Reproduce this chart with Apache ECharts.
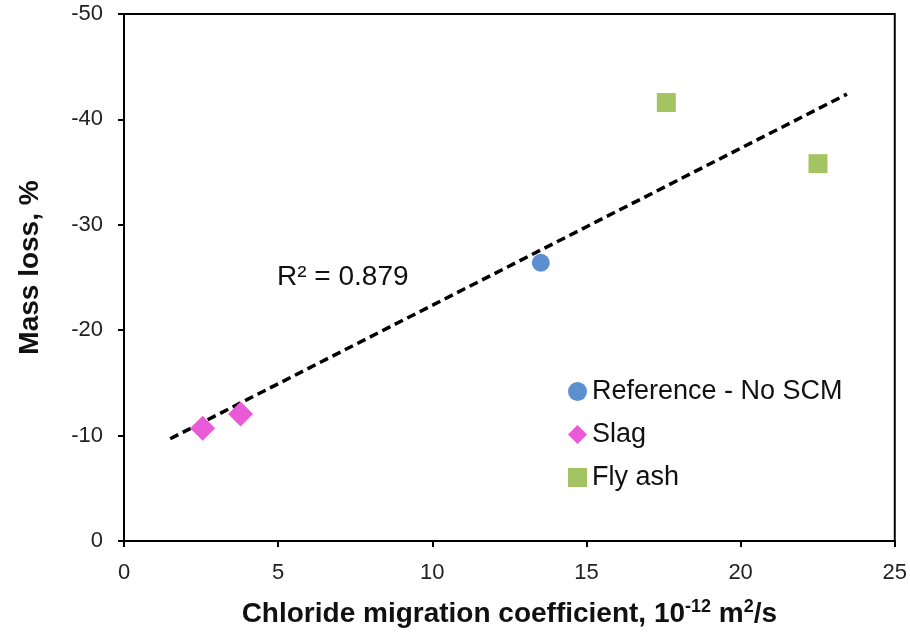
<!DOCTYPE html>
<html>
<head>
<meta charset="utf-8">
<script src="https://cdn.jsdelivr.net/npm/echarts@6/dist/echarts.min.js"></script>
<style>
  html, body { margin: 0; padding: 0; background: #fff; }
  #chart { width: 910px; height: 636px; }
</style>
</head>
<body>
<div id="chart"></div>
<script>
// values: [chloride migration coeff, mass loss %]
const reference = [[13.52, -26.4]]
const slag = [[2.55, -10.7], [3.78, -12.05]]
const flyAsh = [[17.59, -41.6], [22.51, -35.8]]
const trend = [[1.5, -9.7], [23.45, -42.4]]
const seriesNames = ['Reference - No SCM', 'Slag', 'Fly ash']
const r2Label = 'R² = 0.879'

const FONT = 'Liberation Sans, Arial, sans-serif'
const chart = echarts.init(document.getElementById('chart'), null, { renderer: 'canvas' })

chart.setOption({
  animation: false,
  textStyle: { fontFamily: FONT },
  grid: { left: 124, right: 13, top: 14, bottom: 95, show: true,
    borderColor: '#000', borderWidth: 2, backgroundColor: 'transparent' },
  legend: {
    orient: 'vertical', left: 568, top: 378, itemGap: 16, padding: 0,
    itemWidth: 19, itemHeight: 19,
    textStyle: { fontFamily: FONT, fontSize: 27, lineHeight: 27, color: '#111' },
    data: [
      { name: seriesNames[0], icon: 'circle' },
      { name: seriesNames[1], icon: 'diamond' },
      { name: seriesNames[2], icon: 'rect' },
    ],
  },
  xAxis: {
    type: 'value', min: 0, max: 25, interval: 5,
    name: '{b|Chloride migration coefficient, 10}{s|-12}{b| m}{s|2}{b|/s}',
    nameLocation: 'middle', nameGap: 57,
    nameTextStyle: { rich: {
      b: { fontFamily: FONT, fontSize: 28, fontWeight: 'bold', color: '#111', lineHeight: 32 },
      s: { fontFamily: FONT, fontSize: 18, fontWeight: 'bold', color: '#111', verticalAlign: 'top', lineHeight: 32, padding: [0, 0, 14, 0] },
    } },
    axisLine: { show: true, onZero: false, lineStyle: { color: '#000', width: 2 } },
    axisTick: { show: true, inside: false, length: 6, lineStyle: { color: '#000', width: 2 } },
    axisLabel: { fontSize: 22, color: '#222', margin: 21 },
    splitLine: { show: false },
  },
  yAxis: {
    type: 'value', min: -50, max: 0, interval: 10, inverse: true,
    name: 'Mass loss, %', nameLocation: 'middle', nameGap: 80,
    nameTextStyle: { fontFamily: FONT, fontSize: 28, fontWeight: 'bold', color: '#111', padding: [0, 0, 0, 20] },
    axisLine: { show: true, onZero: false, lineStyle: { color: '#000', width: 2 } },
    axisTick: { show: true, inside: false, length: 6, lineStyle: { color: '#000', width: 2 } },
    axisLabel: { fontSize: 22, color: '#222', margin: 21 },
    splitLine: { show: false },
  },
  graphic: [{
    type: 'text', left: 277, top: 263,
    style: { text: r2Label, font: '28px ' + FONT, fill: '#111' },
  }],
  series: [
    { name: 'trend', type: 'line', data: trend, symbol: 'none', z: 1,
      lineStyle: { color: '#000', width: 3.5, type: [9, 5] } },
    { name: seriesNames[0], type: 'scatter', data: reference, symbol: 'circle', symbolSize: 18,
      itemStyle: { color: '#5b8fcf', opacity: 1 }, z: 3 },
    { name: seriesNames[1], type: 'scatter', data: slag, symbol: 'diamond', symbolSize: 25,
      itemStyle: { color: '#e85ad6', opacity: 1 }, z: 3 },
    { name: seriesNames[2], type: 'scatter', data: flyAsh, symbol: 'rect', symbolSize: 19,
      itemStyle: { color: '#a4c463', opacity: 1 }, z: 3 },
  ],
})
</script>
</body>
</html>
